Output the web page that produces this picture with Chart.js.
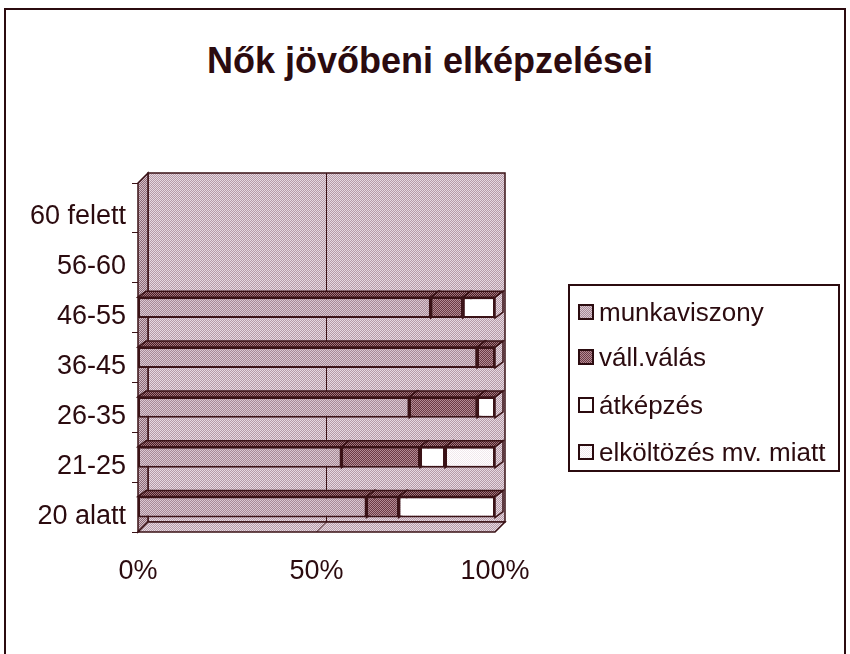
<!DOCTYPE html>
<html>
<head>
<meta charset="utf-8">
<script src="https://cdn.jsdelivr.net/npm/chart.js@4/dist/chart.umd.min.js"></script>
<style>
  html, body { margin: 0; padding: 0; background: #fff; overflow: hidden; }
  body { width: 850px; height: 654px; position: relative; font-family: "Liberation Sans", Arial, sans-serif; color: #2b0b0f; }
  #frame { position: absolute; left: 4px; top: 8px; width: 838px; height: 700px; border: 2px solid #2b0b0f; border-bottom: none; }
  #title { position: absolute; left: 0; top: 40px; width: 860px; text-align: center; font-weight: bold; font-size: 36px; line-height: 42px; }
  #wrap { position: absolute; left: 0; top: 0; width: 850px; height: 654px; }
  #legend { position: absolute; left: 568px; top: 284px; width: 272px; height: 188px; border: 2px solid #2b0b0f; box-sizing: border-box; }
  .item { position: absolute; left: 8px; height: 30px; display: flex; align-items: center; font-size: 26px; white-space: nowrap; }
  .box { width: 12px; height: 12px; border: 2px solid #2b0b0f; margin-right: 5px; flex: none; }
</style>
</head>
<body>
<div id="frame"></div>
<div id="title">Nők jövőbeni elképzelései</div>
<div id="wrap"><canvas id="chart" width="850" height="654"></canvas></div>
<div id="legend"></div>
<script>
const categories = ["20 alatt", "21-25", "26-35", "36-45", "46-55", "56-60", "60 felett"];
const seriesNames = ["munkaviszony", "váll.válás", "átképzés", "elköltözés mv. miatt"];
const munkaviszony = [64, 57, 76, 95, 82, 0, 0];
const vallValas = [9, 22, 19, 5, 9, 0, 0];
const atkepzes = [27, 7, 5, 0, 9, 0, 0];
const elkoltozes = [0, 14, 0, 0, 0, 0, 0];
const xTicks = [0, 50, 100];

const DARK = "#3a1216";
const TEXT = "#2b0b0f";
const WALL_D = 10;
const BAR_DX = 8, BAR_DY = 6;

// small dither tiles, like the old printed/scanned fill
function tile(a, b) {
  const c = document.createElement("canvas");
  c.width = 2; c.height = 2;
  const g = c.getContext("2d");
  g.fillStyle = a; g.fillRect(0, 0, 2, 2);
  g.fillStyle = b; g.fillRect(0, 0, 1, 1); g.fillRect(1, 1, 1, 1);
  return c;
}
const tiles = {
  wall: tile("#b69ba8", "#e6d9e1"),
  wallSide: tile("#8e6a76", "#d2bfc8"),
  munka: tile("#a88a97", "#dac8d1"),
  vall: tile("#6c3a44", "#b38c95"),
  atk: tile("#ffffff", "#ffffff"),
  elk: tile("#ffffff", "#f1e8ed"),
  top: tile("#4e1e25", "#a07880")
};
const ctx0 = document.getElementById("chart").getContext("2d");
const pats = {};
Object.keys(tiles).forEach(k => { pats[k] = ctx0.createPattern(tiles[k], "repeat"); });

const seriesData = [munkaviszony, vallValas, atkepzes, elkoltozes];
const seriesFill = [pats.munka, pats.vall, pats.atk, pats.elk];
const seriesTile = [tiles.munka, tiles.vall, tiles.atk, tiles.elk];

function poly(ctx, pts, fill) {
  ctx.beginPath();
  ctx.moveTo(pts[0][0], pts[0][1]);
  pts.slice(1).forEach(p => ctx.lineTo(p[0], p[1]));
  ctx.closePath();
  ctx.fillStyle = fill;
  ctx.fill();
  ctx.stroke();
}

const depth3d = {
  id: "depth3d",
  beforeDatasetsDraw(chart) {
    const { ctx, chartArea: a, scales: { x } } = chart;
    ctx.save();
    ctx.strokeStyle = DARK;
    ctx.lineWidth = 1.5;
    // back wall, left wall, floor
    ctx.fillStyle = pats.wall;
    ctx.fillRect(a.left + WALL_D, a.top - WALL_D, a.width, a.height);
    ctx.strokeRect(a.left + WALL_D, a.top - WALL_D, a.width, a.height);
    poly(ctx, [[a.left, a.top], [a.left + WALL_D, a.top - WALL_D], [a.left + WALL_D, a.bottom - WALL_D], [a.left, a.bottom]], pats.wallSide);
    poly(ctx, [[a.left, a.bottom], [a.left + WALL_D, a.bottom - WALL_D], [a.right + WALL_D, a.bottom - WALL_D], [a.right, a.bottom]], pats.wall);
    // gridlines on wall and floor
    ctx.lineWidth = 1;
    x.ticks.forEach(t => {
      const px = x.getPixelForValue(t.value);
      if (px <= a.left + 1 || px >= a.right - 1) return;
      ctx.beginPath();
      ctx.moveTo(px + WALL_D, a.top - WALL_D);
      ctx.lineTo(px + WALL_D, a.bottom - WALL_D);
      ctx.lineTo(px, a.bottom);
      ctx.stroke();
    });
    // bar tops and sides
    ctx.lineWidth = 1.5;
    categories.forEach((c, i) => {
      chart.data.datasets.forEach((ds, d) => {
        if (!ds.data[i]) return;
        const bar = chart.getDatasetMeta(d).data[i];
        const p = bar.getProps(["x", "y", "base", "height"], true);
        const top = p.y - p.height / 2, bot = p.y + p.height / 2;
        poly(ctx, [[p.x, top], [p.x + BAR_DX, top - BAR_DY], [p.x + BAR_DX, bot - BAR_DY], [p.x, bot]], pats.wall);
        poly(ctx, [[p.base, top], [p.base + BAR_DX, top - BAR_DY], [p.x + BAR_DX, top - BAR_DY], [p.x, top]], pats.top);
      });
    });
    ctx.restore();
  }
};

const chart = new Chart(ctx0, {
  type: "bar",
  data: {
    labels: categories,
    datasets: seriesNames.map((name, i) => ({
      label: name,
      data: seriesData[i],
      backgroundColor: seriesFill[i],
      borderColor: DARK,
      borderWidth: 2,
      borderSkipped: false,
      categoryPercentage: 1,
      barPercentage: 0.42
    }))
  },
  options: {
    indexAxis: "y",
    responsive: false,
    animation: false,
    layout: { padding: { left: 10, right: 355, top: 183, bottom: 0 } },
    plugins: { legend: { display: false }, title: { display: false }, tooltip: { enabled: false } },
    scales: {
      x: {
        stacked: true,
        min: 0,
        max: 100,
        afterBuildTicks(scale) { scale.ticks = xTicks.map(v => ({ value: v })); },
        afterFit(scale) { scale.height = 122; },
        grid: { display: false },
        border: { display: false },
        ticks: { color: TEXT, padding: 15, font: { family: "'Liberation Sans', Arial", size: 27 }, callback: v => v + "%" }
      },
      y: {
        stacked: true,
        reverse: true,
        afterFit(scale) { scale.width = 128; },
        grid: { drawOnChartArea: false, drawTicks: true, tickLength: 6, color: DARK },
        border: { display: false },
        ticks: { color: TEXT, padding: 6, labelOffset: 9, font: { family: "'Liberation Sans', Arial", size: 27 } }
      }
    }
  },
  plugins: [depth3d]
});

// legend built from the series names and fills
const legendEl = document.getElementById("legend");
const rowTops = [11, 56, 104, 151];
seriesNames.forEach((name, i) => {
  const row = document.createElement("div");
  row.className = "item";
  row.style.top = rowTops[i] + "px";
  const box = document.createElement("span");
  box.className = "box";
  box.style.backgroundImage = "url(" + seriesTile[i].toDataURL() + ")";
  box.style.imageRendering = "pixelated";
  box.style.backgroundSize = "2px 2px";
  row.appendChild(box);
  row.appendChild(document.createTextNode(name));
  legendEl.appendChild(row);
});
</script>
</body>
</html>
